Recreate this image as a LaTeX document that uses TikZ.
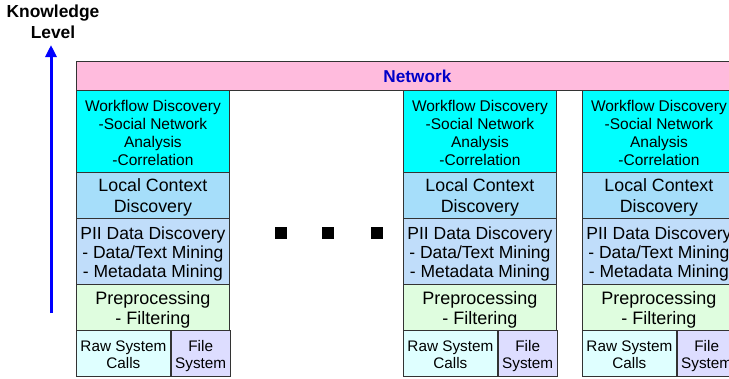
\documentclass[tikz,border=0pt]{standalone}
\usepackage{fontspec}
\setmainfont{Liberation Sans}
\usetikzlibrary{arrows.meta}
\definecolor{netpink}{HTML}{FFBBDD}
\definecolor{wfcyan}{HTML}{00FFFF}
\definecolor{lcblue}{HTML}{A6DEFA}
\definecolor{piiblue}{HTML}{C0DDFA}
\definecolor{pregreen}{HTML}{DFFDDF}
\definecolor{rawcyan}{HTML}{DFFFFF}
\definecolor{filelav}{HTML}{DDDDFF}
\definecolor{netblue}{HTML}{0000C8}
\newcommand{\toppad}[1]{\rule{0pt}{#1}}
\begin{document}
\begin{tikzpicture}[x=1pt, y=-1pt, thick]
\tikzstyle{layer}=[draw=black!80, line width=0.8pt, inner sep=0pt, align=center,
                   anchor=north west, minimum width=153pt]
\tikzstyle{dot}=[fill=black, inner sep=0pt, minimum size=12pt]
\useasboundingbox (0,0) rectangle (729,378);
  % top bar, runs past the right edge
  \node[layer, fill=netpink, minimum width=682pt, minimum height=29pt,
        text=netblue, font=\bfseries\fontsize{17.2}{20}\selectfont] (net) at (76,61) {Network};
  % one stack per host
  \foreach \x/\name in {76/a, 403/b, 582/c} {
    \node[layer, fill=wfcyan, minimum height=82pt, font=\fontsize{15.5}{18}\selectfont]
      (wf\name) at (\x,90) {\toppad{15pt}Workflow Discovery\\-Social Network\\Analysis\\-Correlation};
    \node[layer, fill=lcblue, minimum height=46pt, font=\fontsize{17.8}{20.5}\selectfont]
      (lc\name) at (\x,172) {\toppad{17pt}Local Context\\Discovery};
    \node[layer, fill=piiblue, minimum height=66pt, font=\fontsize{17.5}{19}\selectfont]
      (pii\name) at (\x,218) {\toppad{18.5pt}PII Data Discovery\\- Data/Text Mining\\- Metadata Mining};
    \node[layer, fill=pregreen, minimum height=46pt, font=\fontsize{18}{20}\selectfont]
      (pre\name) at (\x,284) {\toppad{17pt}Preprocessing\\- Filtering};
    \node[layer, fill=rawcyan, minimum width=94pt, minimum height=46pt,
          font=\fontsize{15.3}{17}\selectfont]
      (raw\name) at (\x,330) {\toppad{19pt}Raw System\\Calls\strut};
    \node[layer, fill=filelav, minimum width=59pt, minimum height=46pt,
          font=\fontsize{15.3}{17}\selectfont, anchor=north west]
      (file\name) at (raw\name.north east) {\toppad{19pt}File\\System\strut};
  }
  % gap between hosts
  \foreach \x/\name in {281/1, 328/2, 377/3}
    \node[dot] (dot\name) at (\x,233) {};
  % knowledge axis
  \node[font=\bfseries\fontsize{17.4}{21}\selectfont, align=center] (klabel) at (53,22) {Knowledge\\Level};
  \coordinate (kbase) at (51,313);
  \coordinate (ktip) at (51,45);
  \draw[blue, line width=3pt, -{Triangle[width=11pt,length=12pt]}] (kbase) -- (ktip);
\end{tikzpicture}
\end{document}
